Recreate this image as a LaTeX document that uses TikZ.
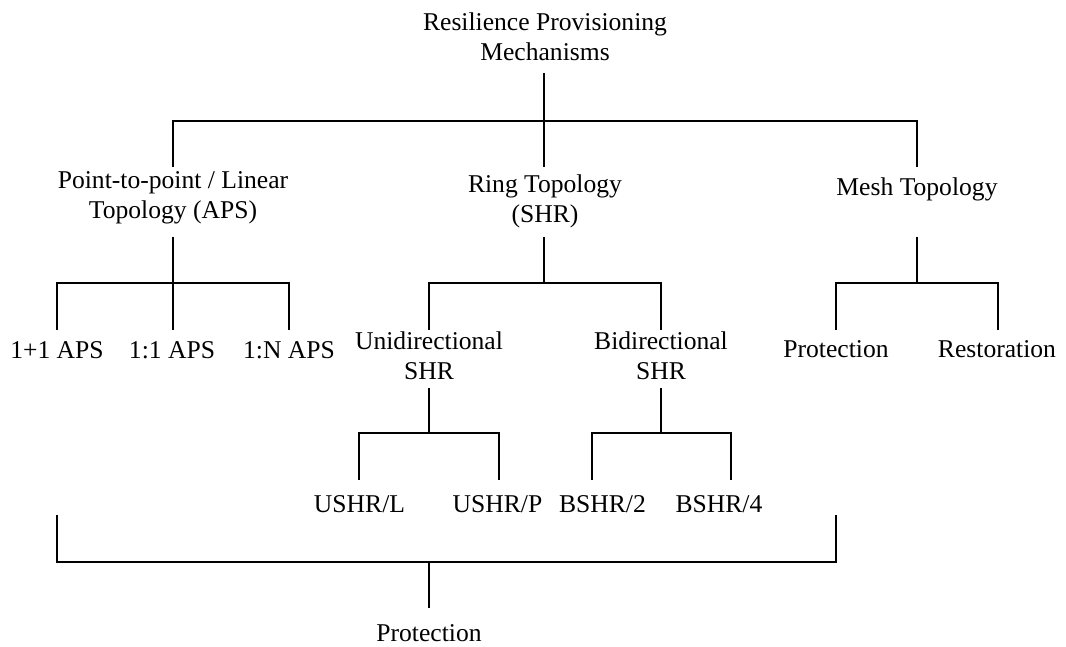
\documentclass[tikz,border=0pt]{standalone}
\usepackage{fontspec}
\setmainfont{Liberation Serif}
\begin{document}
\begin{tikzpicture}[x=1pt,y=-1pt,
  lbl/.style={anchor=base, align=center, inner sep=0pt, font=\fontsize{25.6}{30}\selectfont},
  vline/.style={line width=1.3pt},
  hbar/.style={line width=1.8pt, line cap=rect}]
\useasboundingbox[fill=white] (0,0) rectangle (1066,646);

% ---- text nodes (base anchor = baseline of the last line)
\node[lbl] (root) at (545,60) {Resilience Provisioning\\Mechanisms};
\node[lbl] (aps)  at (173,218) {Point-to-point / Linear\\Topology (APS)};
\node[lbl] (ring) at (545,222) {Ring Topology\\(SHR)};
\node[lbl] (mesh) at (917,195) {Mesh Topology};
\node[lbl] (a1p1) at (57,358) {1+1 APS};
\node[lbl] (a1c1) at (172,358) {1:1 APS};
\node[lbl] (a1cn) at (289,358) {1:N APS};
\node[lbl] (uni)  at (429,379) {Unidirectional\\SHR};
\node[lbl] (bi)   at (661,379) {Bidirectional\\SHR};
\node[lbl] (mprot) at (836,357) {Protection};
\node[lbl] (mrest) at (997,357) {Restoration};
\node[lbl] (ushrl) at (359.5,512) {USHR/L};
\node[lbl] (ushrp) at (497.5,512) {USHR/P};
\node[lbl] (bshr2) at (602.5,512) {BSHR/2};
\node[lbl] (bshr4) at (719,512) {BSHR/4};
\node[lbl] (prot)  at (429,641) {Protection};

% ---- connector coordinates
% level 1
\coordinate (rootout) at (544,73);
\coordinate (j0) at (544,121);
\coordinate (j0l) at (173,121);
\coordinate (j0r) at (917,121);
\coordinate (apsin) at (173,167);
\coordinate (ringin) at (544,167);
\coordinate (meshin) at (917,167);
% level 2
\coordinate (apsout) at (173,237);
\coordinate (ringout) at (544,237);
\coordinate (meshout) at (917,237);
\coordinate (ja) at (173,283);
\coordinate (jal) at (57,283);
\coordinate (jar) at (289,283);
\coordinate (jr) at (544,283);
\coordinate (jrl) at (429,283);
\coordinate (jrr) at (661,283);
\coordinate (jm) at (917,283);
\coordinate (jml) at (836,283);
\coordinate (jmr) at (998,283);
\coordinate (a1p1in) at (57,330);
\coordinate (a1c1in) at (173,330);
\coordinate (a1cnin) at (289,330);
\coordinate (uniin) at (429,330);
\coordinate (biin) at (661,330);
\coordinate (mprotin) at (836,330);
\coordinate (mrestin) at (998,330);
% level 3
\coordinate (uniout) at (429,388);
\coordinate (biout) at (661,388);
\coordinate (ju) at (429,433);
\coordinate (jul) at (359,433);
\coordinate (jur) at (499,433);
\coordinate (jb) at (661,433);
\coordinate (jbl) at (592,433);
\coordinate (jbr) at (731,433);
\coordinate (ushrlin) at (359,480);
\coordinate (ushrpin) at (499,480);
\coordinate (bshr2in) at (592,480);
\coordinate (bshr4in) at (731,480);
% bottom bracket
\coordinate (bl) at (57,515);
\coordinate (br) at (836,515);
\coordinate (jpl) at (57,562);
\coordinate (jpr) at (836,562);
\coordinate (jp) at (429,562);
\coordinate (protin) at (429,608);

% ---- vertical connectors
\draw[vline] (rootout) -- (j0);
\draw[vline] (j0l) -- (apsin);
\draw[vline] (j0) -- (ringin);
\draw[vline] (j0r) -- (meshin);
\draw[vline] (apsout) -- (ja);
\draw[vline] (ringout) -- (jr);
\draw[vline] (meshout) -- (jm);
\draw[vline] (jal) -- (a1p1in);
\draw[vline] (ja) -- (a1c1in);
\draw[vline] (jar) -- (a1cnin);
\draw[vline] (jrl) -- (uniin);
\draw[vline] (jrr) -- (biin);
\draw[vline] (jml) -- (mprotin);
\draw[vline] (jmr) -- (mrestin);
\draw[vline] (uniout) -- (ju);
\draw[vline] (biout) -- (jb);
\draw[vline] (jul) -- (ushrlin);
\draw[vline] (jur) -- (ushrpin);
\draw[vline] (jbl) -- (bshr2in);
\draw[vline] (jbr) -- (bshr4in);
\draw[vline] (bl) -- (jpl);
\draw[vline] (br) -- (jpr);
\draw[vline] (jp) -- (protin);

% ---- horizontal bars
\draw[hbar] (j0l) -- (j0r);
\draw[hbar] (jal) -- (jar);
\draw[hbar] (jrl) -- (jrr);
\draw[hbar] (jml) -- (jmr);
\draw[hbar] (jul) -- (jur);
\draw[hbar] (jbl) -- (jbr);
\draw[hbar] (jpl) -- (jpr);
\end{tikzpicture}
\end{document}
